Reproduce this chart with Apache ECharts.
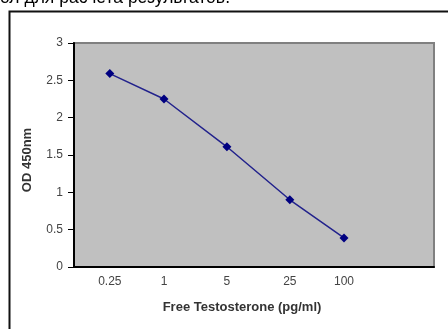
<!DOCTYPE html>
<html>
<head>
<meta charset="utf-8">
<script src="https://cdn.jsdelivr.net/npm/echarts@6/dist/echarts.min.js"></script>
<style>
  html, body { margin: 0; padding: 0; background: #fff; }
  #chart { width: 448px; height: 329px; }
</style>
</head>
<body>
<div id="chart"></div>
<script>
// standard curve: free testosterone concentration vs OD
const concentrations = [0.25, 1, 5, 25, 100]
const odValues = [2.59, 2.25, 1.61, 0.90, 0.39]
const xTickLabels = [0.25, 1, 5, 25, 100]
const yTicks = [0, 0.5, 1, 1.5, 2, 2.5, 3]

const chartIns = echarts.init(document.getElementById('chart'))

const option = {
  animation: false,
  textStyle: { fontFamily: 'Liberation Sans, Arial, sans-serif' },
  graphic: [
    {
      type: 'text',
      right: 448 - 230,
      top: -11,
      style: {
        text: 'Протокол для расчета результатов.',
        font: '17.5px "Liberation Sans", Arial, sans-serif',
        fill: '#000'
      }
    },
    {
      type: 'rect',
      shape: { x: 9.5, y: 11.5, width: 480, height: 360 },
      style: { fill: 'none', stroke: '#111', lineWidth: 2 },
      z: 0
    }
  ],
  grid: {
    left: 74,
    top: 43,
    right: 14,
    bottom: 62,
    show: true,
    backgroundColor: '#C0C0C0',
    borderColor: '#808080',
    borderWidth: 2
  },
  xAxis: {
    type: 'log',
    logBase: 10,
    min: 0.1,
    max: 1000,
    name: 'Free Testosterone (pg/ml)',
    nameLocation: 'middle',
    nameGap: 34,
    nameTextStyle: { fontSize: 13, fontWeight: 'bold', color: '#333', padding: [0, 24, 0, 0] },
    axisLine: { lineStyle: { color: '#000', width: 2 } },
    axisTick: { show: false },
    splitLine: { show: false },
    axisLabel: {
      customValues: xTickLabels,
      fontSize: 12,
      color: '#444',
      margin: 9,
      formatter: v => String(v)
    }
  },
  yAxis: {
    type: 'value',
    min: 0,
    max: 3,
    interval: 0.5,
    name: 'OD 450nm',
    nameLocation: 'middle',
    nameGap: 40,
    nameTextStyle: { fontSize: 13, fontWeight: 'bold', color: '#333', padding: [0, 10, 0, 0] },
    axisLine: { show: true, lineStyle: { color: '#000', width: 2 } },
    axisTick: { show: true, length: 6, lineStyle: { color: '#000' } },
    splitLine: { show: false },
    axisLabel: {
      fontSize: 12,
      color: '#444',
      margin: 11,
      formatter: v => yTicks.includes(v) ? String(v) : ''
    }
  },
  series: [
    {
      type: 'line',
      data: concentrations.map((c, i) => [c, odValues[i]]),
      symbol: 'diamond',
      symbolSize: 9,
      lineStyle: { color: '#22228c', width: 1.5 },
      itemStyle: { color: '#000080' }
    }
  ]
}
chartIns.setOption(option)
</script>
</body>
</html>
